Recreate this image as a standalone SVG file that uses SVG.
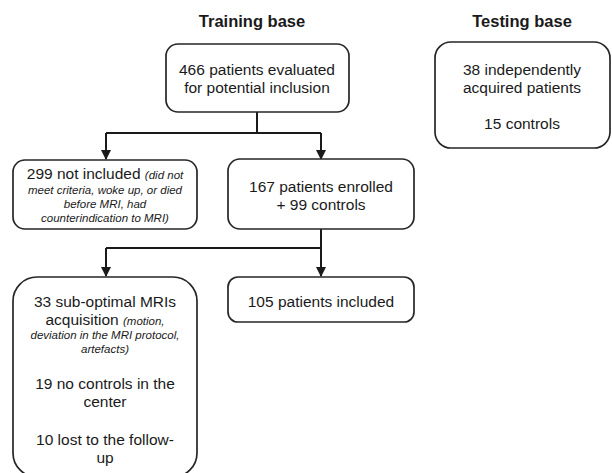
<svg xmlns="http://www.w3.org/2000/svg" width="612" height="473" viewBox="0 0 612 473">
<defs>
<style>
.box{fill:#fff;stroke:#262626;stroke-width:1.7}
.t{font-family:"Liberation Sans",Arial,sans-serif;font-size:15.5px;fill:#1a1a1a;text-anchor:middle}
.title{font-family:"Liberation Sans",Arial,sans-serif;font-size:16.5px;font-weight:bold;fill:#1a1a1a;text-anchor:middle}
.it{font-style:italic;font-size:11.5px}
.line{fill:none;stroke:#1a1a1a;stroke-width:2}
</style>
<marker id="arr" viewBox="0 0 10 10" refX="9" refY="5" markerWidth="5" markerHeight="5" orient="auto" markerUnits="strokeWidth">
<path d="M0,0 L10,5 L0,10 z" fill="#1a1a1a"/>
</marker>
</defs>
<rect width="612" height="473" fill="#fff"/>
<text class="title" x="252" y="27">Training base</text>
<text class="title" x="522" y="27">Testing base</text>
<g id="connectors">
<path class="line" d="M257,112 V133 H106"/>
<path class="line" d="M257,133 H321"/>
<path class="line" d="M106,133 V159" marker-end="url(#arr)"/>
<path class="line" d="M321,133 V159" marker-end="url(#arr)"/>
<path class="line" d="M321,229 V248 H106"/>
<path class="line" d="M106,248 V276" marker-end="url(#arr)"/>
<path class="line" d="M321,248 V276" marker-end="url(#arr)"/>
</g>
<g id="evaluated">
<rect class="box" x="166" y="44" width="183" height="68" rx="12"/>
<text class="t" x="257" y="75">466 patients evaluated</text>
<text class="t" x="257" y="93">for potential inclusion</text>
</g>
<g id="testing">
<rect class="box" x="435" y="42" width="175" height="106" rx="16"/>
<text class="t" x="522" y="75">38 independently</text>
<text class="t" x="522" y="93">acquired patients</text>
<text class="t" x="522" y="129">15 controls</text>
</g>
<g id="notincluded">
<rect class="box" x="13" y="160" width="184" height="69" rx="12"/>
<text class="t" x="105" y="179">299 not included <tspan class="it">(did not</tspan></text>
<text class="t it" x="105" y="194">meet criteria, woke up, or died</text>
<text class="t it" x="105" y="208">before MRI, had</text>
<text class="t it" x="105" y="222">counterindication to MRI)</text>
</g>
<g id="enrolled">
<rect class="box" x="228" y="159" width="186" height="70" rx="12"/>
<text class="t" x="321" y="192">167 patients enrolled</text>
<text class="t" x="321" y="210">+ 99 controls</text>
</g>
<g id="included">
<rect class="box" x="228" y="277" width="186" height="45" rx="10"/>
<text class="t" x="321" y="307">105 patients included</text>
</g>
<g id="excluded">
<rect class="box" x="13" y="277" width="184" height="200" rx="24"/>
<text class="t" x="105" y="307">33 sub-optimal MRIs</text>
<text class="t" x="105" y="325">acquisition <tspan class="it">(motion,</tspan></text>
<text class="t it" x="105" y="339">deviation in the MRI protocol,</text>
<text class="t it" x="105" y="353">artefacts)</text>
<text class="t" x="105" y="389">19 no controls in the</text>
<text class="t" x="105" y="407">center</text>
<text class="t" x="105" y="445">10 lost to the follow-</text>
<text class="t" x="105" y="463">up</text>
</g>
</svg>
